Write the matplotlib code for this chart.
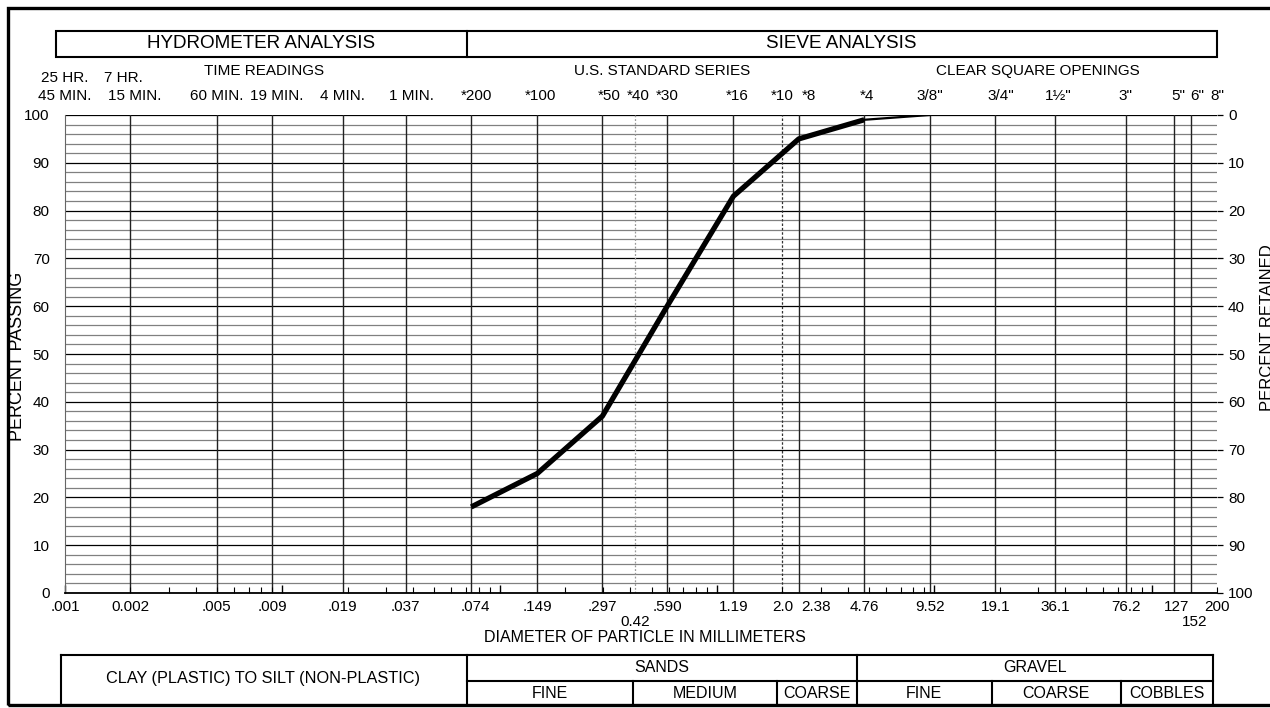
import matplotlib
matplotlib.use("Agg")
import matplotlib.pyplot as plt
from matplotlib.patches import Rectangle
from matplotlib.lines import Line2D
import matplotlib.transforms as mtransforms
from matplotlib.ticker import LogLocator, NullFormatter

plt.rcParams['font.family'] = ['Liberation Sans', 'DejaVu Sans']

# gradation curve (percent passing vs grain size, mm)
sizes = [0.074, 0.149, 0.297, 0.590, 1.19, 2.38, 4.76, 9.52]
passing = [18, 25, 37, 60, 83, 95, 99, 100]

# grid / label sizes on the x axis
grid_sizes = [0.002, 0.005, 0.009, 0.019, 0.037, 0.074, 0.149, 0.297, 0.590,
              1.19, 2.38, 4.76, 9.52, 19.1, 36.1, 76.2, 127, 152]
dotted_sizes = [0.42, 2.0]
bottom_labels = [(0.001, ".001"), (0.002, "0.002"), (0.005, ".005"), (0.009, ".009"),
                 (0.019, ".019"), (0.037, ".037"), (0.074, ".074"), (0.149, ".149"),
                 (0.297, ".297"), (0.590, ".590"), (1.19, "1.19"), (2.0, "2.0"),
                 (2.38, "2.38"), (4.76, "4.76"), (9.52, "9.52"), (19.1, "19.1"),
                 (36.1, "36.1"), (76.2, "76.2"), (127, "127"), (200, "200")]
low_labels = [(0.42, "0.42"), (152, "152")]
top_labels = [(0.001, "45 MIN."), (0.002, "15 MIN."), (0.005, "60 MIN."), (0.009, "19 MIN."),
              (0.019, "4 MIN."), (0.037, "1 MIN."), (0.074, "*200"), (0.149, "*100"),
              (0.297, "*50"), (0.42, "*40"), (0.590, "*30"), (1.19, "*16"), (2.0, "*10"),
              (2.38, "*8"), (4.76, "*4"), (9.52, '3/8"'), (19.1, '3/4"'), (36.1, '1½"'),
              (76.2, '3"'), (127, '5"'), (152, '6"'), (200, '8"')]
top_labels2 = [(0.001, "25 HR."), (0.002, "7 HR.")]

# small pixel nudges so labels sit like on the printed form
nudge = {"15 MIN.": 4, "19 MIN.": 4, "1 MIN.": 6, "7 HR.": -7, "*200": 5, "*100": 3,
         "*50": 7, "*40": 3, "*16": 4, "*8": 10, "*4": 3, '3/4"': 5, '1½"': 3,
         '5"': 4, '6"': 6, ".074": 4, "2.38": 17, "152": 4, "127": 2}

W, H = 1270, 708
fig = plt.figure(figsize=(W / 100, H / 100), dpi=100)


def fx(px):
    return px / W


def fy(py):
    return 1 - py / H


ax = fig.add_axes([fx(65), fy(593), fx(1217) - fx(65), fy(115) - fy(593)])
ax.set_xscale('log')
ax.set_xlim(0.001, 200)
ax.set_ylim(0, 100)

# horizontal grid
for v in range(0, 101, 2):
    if v % 10 == 0:
        ax.axhline(v, color='black', lw=0.9, zorder=1)
    else:
        ax.axhline(v, color='#808080', lw=0.9, zorder=1)
for s in grid_sizes:
    ax.axvline(s, color='#222222', lw=1.0, zorder=1)
ax.axvline(dotted_sizes[0], color='#999999', lw=0.9, ls=(0, (1.5, 1.5)), zorder=1)
ax.axvline(dotted_sizes[1], color='#333333', lw=0.9, ls=(0, (2, 1.5)), zorder=1)

# curve
ax.plot(sizes[:-1], passing[:-1], color='black', lw=3.8, solid_capstyle='butt', zorder=5)
ax.plot(sizes[-2:], passing[-2:], color='black', lw=1.6, zorder=5)

# axis styling
ax.spines['right'].set_visible(False)
ax.spines['top'].set_visible(False)
ax.spines['bottom'].set_linewidth(1.3)
ax.spines['left'].set_color('#666666')
ax.xaxis.set_major_locator(LogLocator(base=10, numticks=20))
ax.xaxis.set_minor_locator(LogLocator(base=10, subs=range(2, 10), numticks=100))
ax.xaxis.set_major_formatter(NullFormatter())
ax.xaxis.set_minor_formatter(NullFormatter())
ax.tick_params(axis='x', which='major', direction='in', length=6, width=1.0)
ax.tick_params(axis='x', which='minor', direction='in', length=4, width=0.8)
ax.set_yticks(range(0, 101, 10))
ax.tick_params(axis='y', length=0, labelsize=11, pad=11)

ax2 = ax.twinx()
ax2.set_ylim(100, 0)
ax2.set_yticks(range(0, 101, 10))
ax2.tick_params(axis='y', length=4, width=0.9, labelsize=11, pad=4)
for sp in ax2.spines.values():
    sp.set_visible(False)

trans = mtransforms.blended_transform_factory(ax.transData, fig.transFigure)


def size_label(s, ypx, t):
    dx = nudge.get(t, 0) / 100
    tr = trans + mtransforms.ScaledTranslation(dx, 0, fig.dpi_scale_trans)
    ax.text(s, fy(ypx), t, transform=tr, ha='center', va='center', fontsize=11)


for s, t in bottom_labels:
    size_label(s, 607, t)
for s, t in low_labels:
    size_label(s, 622, t)
for s, t in top_labels:
    size_label(s, 96, t)
for s, t in top_labels2:
    size_label(s, 78, t)

fig.text(fx(264), fy(71), "TIME READINGS", ha='center', va='center', fontsize=11)
fig.text(fx(662), fy(71), "U.S. STANDARD SERIES", ha='center', va='center', fontsize=11)
fig.text(fx(1038), fy(71), "CLEAR SQUARE OPENINGS", ha='center', va='center', fontsize=11)
fig.text(fx(645), fy(637), "DIAMETER OF PARTICLE IN MILLIMETERS", ha='center', va='center', fontsize=11.5)
fig.text(fx(18), fy(356), "PERCENT PASSING", ha='center', va='center', rotation=90, fontsize=13)
fig.text(fx(1268), fy(328), "PERCENT RETAINED", ha='center', va='center', rotation=90, fontsize=12)


def seg(x0, y0, x1, y1, lw=1.5):
    fig.add_artist(Line2D([fx(x0), fx(x1)], [fy(y0), fy(y1)], color='black', lw=lw,
                          transform=fig.transFigure, solid_capstyle='projecting'))


# outer frame
fig.add_artist(Rectangle((fx(8), fy(705)), fx(1290) - fx(8), fy(8) - fy(705), fill=False,
                         lw=2.4, edgecolor='black', transform=fig.transFigure))

# header box
fig.add_artist(Rectangle((fx(56), fy(57)), fx(1217) - fx(56), fy(31) - fy(57), fill=False,
                         lw=1.5, edgecolor='black', transform=fig.transFigure))
seg(467, 31, 467, 57)
fig.text(fx(261), fy(44), "HYDROMETER ANALYSIS", ha='center', va='center', fontsize=13.6)
fig.text(fx(841), fy(44), "SIEVE ANALYSIS", ha='center', va='center', fontsize=13.6)

# soil classification box
seg(61, 655, 1213, 655)
seg(467, 681, 1213, 681)
seg(61, 655, 61, 705)
seg(467, 655, 467, 705)
seg(857, 655, 857, 705)
seg(1213, 655, 1213, 705)
for xd in [633, 777, 992, 1121]:
    seg(xd, 681, xd, 705)
fig.text(fx(263), fy(679), "CLAY (PLASTIC) TO SILT (NON-PLASTIC)", ha='center', va='center', fontsize=11.7)
fig.text(fx(662), fy(667), "SANDS", ha='center', va='center', fontsize=11.5)
fig.text(fx(1035), fy(667), "GRAVEL", ha='center', va='center', fontsize=11.5)
for xc, t in [(550, "FINE"), (705, "MEDIUM"), (817, "COARSE"), (924, "FINE"),
              (1056, "COARSE"), (1167, "COBBLES")]:
    fig.text(fx(xc), fy(693), t, ha='center', va='center', fontsize=11.5)

fig.savefig("out.png", dpi=100)
